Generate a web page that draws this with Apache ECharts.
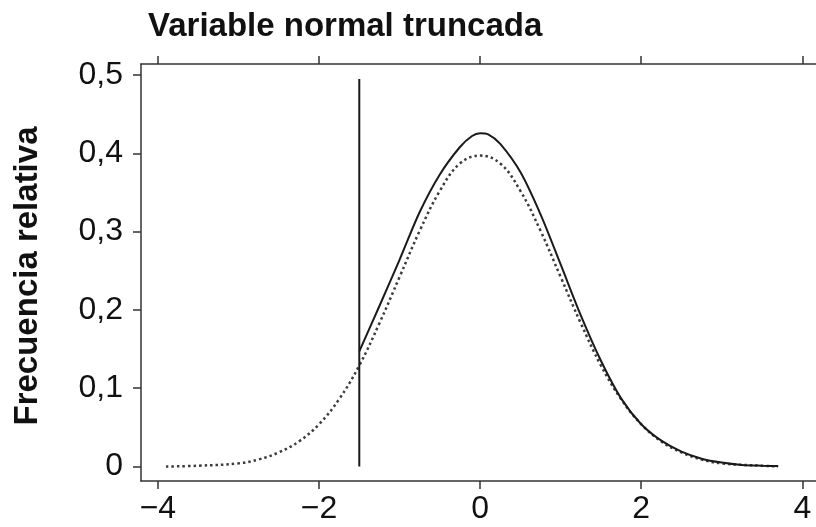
<!DOCTYPE html>
<html><head><meta charset="utf-8">
<script src="https://cdn.jsdelivr.net/npm/echarts@6/dist/echarts.min.js"></script>
<style>html,body{margin:0;padding:0;background:#fff}#c{width:816px;height:527px}</style>
</head><body><div id="c"></div>
<script>
const titleText = 'Variable normal truncada';
const yAxisTitle = 'Frecuencia relativa';
const xTicks = [-4, -2, 0, 2, 4];
const yTicks = [0, 0.1, 0.2, 0.3, 0.4, 0.5];
// dotted curve (full distribution)
const normalX = [-3.9, -3.5, -3.0, -2.75, -2.5, -2.25, -2.0, -1.75, -1.5, -1.25, -1.0, -0.75, -0.5, -0.25, 0, 0.25, 0.5, 0.75, 1.0, 1.25, 1.5, 1.75, 2.0, 2.25, 2.5, 2.75, 3.0, 3.5, 3.7];
const normalY = [0.000, 0.001, 0.004, 0.009, 0.018, 0.032, 0.054, 0.086, 0.129, 0.183, 0.242, 0.301, 0.352, 0.387, 0.397, 0.387, 0.352, 0.301, 0.242, 0.183, 0.129, 0.086, 0.054, 0.032, 0.018, 0.009, 0.004, 0.001, 0.000];
// solid curve (truncated distribution)
const truncX = [-1.5, -1.25, -1.0, -0.75, -0.5, -0.25, -0.1, 0, 0.1, 0.25, 0.5, 0.75, 1.0, 1.25, 1.5, 1.75, 2.0, 2.25, 2.5, 2.75, 3.0, 3.25, 3.5, 3.7];
const truncY = [0.147, 0.205, 0.264, 0.325, 0.373, 0.408, 0.422, 0.4255, 0.424, 0.412, 0.376, 0.322, 0.258, 0.193, 0.135, 0.087, 0.054, 0.033, 0.019, 0.010, 0.005, 0.002, 0.001, 0.0005];
// truncation point
const cutX = [-1.5, -1.5];
const cutY = [0, 0.495];

const FONT = '"Liberation Sans", Arial, sans-serif';
const AX = { color: '#333', width: 1.5 };
const zip = (a, b) => a.map((v, i) => [v, b[i]]);

const chart = echarts.init(document.getElementById('c'), null, { renderer: 'canvas' });
chart.setOption({
  animation: false,
  backgroundColor: '#fff',
  grid: { left: 141, top: 64, right: 0, bottom: 46, containLabel: false },
  graphic: [
    { type: 'text', x: 148, y: 27, style: { text: titleText, font: 'bold 33px ' + FONT, fill: '#111', align: 'left', verticalAlign: 'middle' } },
    { type: 'text', x: 28, y: 276, rotation: Math.PI / 2, style: { text: yAxisTitle, font: 'bold 33px ' + FONT, fill: '#111', align: 'center', verticalAlign: 'middle' } }
  ],
  xAxis: [
    {
      type: 'value', position: 'bottom', min: -4.21, max: 4.17,
      axisLine: { show: true, onZero: false, lineStyle: AX },
      axisTick: { show: true, length: 8, customValues: xTicks, lineStyle: AX },
      axisLabel: { show: true, customValues: xTicks, margin: 12, fontSize: 32, fontFamily: FONT, color: '#111',
        formatter: v => (v < 0 ? '\u2212' + Math.abs(v) : String(v)) },
      splitLine: { show: false }
    },
    {
      type: 'value', position: 'top', min: -4.21, max: 4.17,
      axisLine: { show: true, onZero: false, lineStyle: AX },
      axisTick: { show: true, length: 8, customValues: xTicks, lineStyle: AX },
      axisLabel: { show: false },
      splitLine: { show: false }
    }
  ],
  yAxis: {
    type: 'value', min: -0.0185, max: 0.514,
    axisLine: { show: true, onZero: false, lineStyle: AX },
    axisTick: { show: true, length: 8, customValues: yTicks, lineStyle: AX },
    axisLabel: { show: true, customValues: yTicks, margin: 18, fontSize: 32, fontFamily: FONT, color: '#111',
      formatter: v => String(Math.round(v * 10) / 10).replace('.', ',') },
    splitLine: { show: false }
  },
  series: [
    { type: 'line', data: zip(normalX, normalY), smooth: 0.4, showSymbol: false, z: 2,
      lineStyle: { color: '#3c3c3c', width: 2.5, type: [2.5, 3] } },
    { type: 'line', data: zip(truncX, truncY), smooth: 0.3, showSymbol: false, z: 3,
      lineStyle: { color: '#1a1a1a', width: 2 } },
    { type: 'line', data: zip(cutX, cutY), showSymbol: false, z: 3,
      lineStyle: { color: '#1a1a1a', width: 2 } }
  ]
});
</script>
</body></html>
